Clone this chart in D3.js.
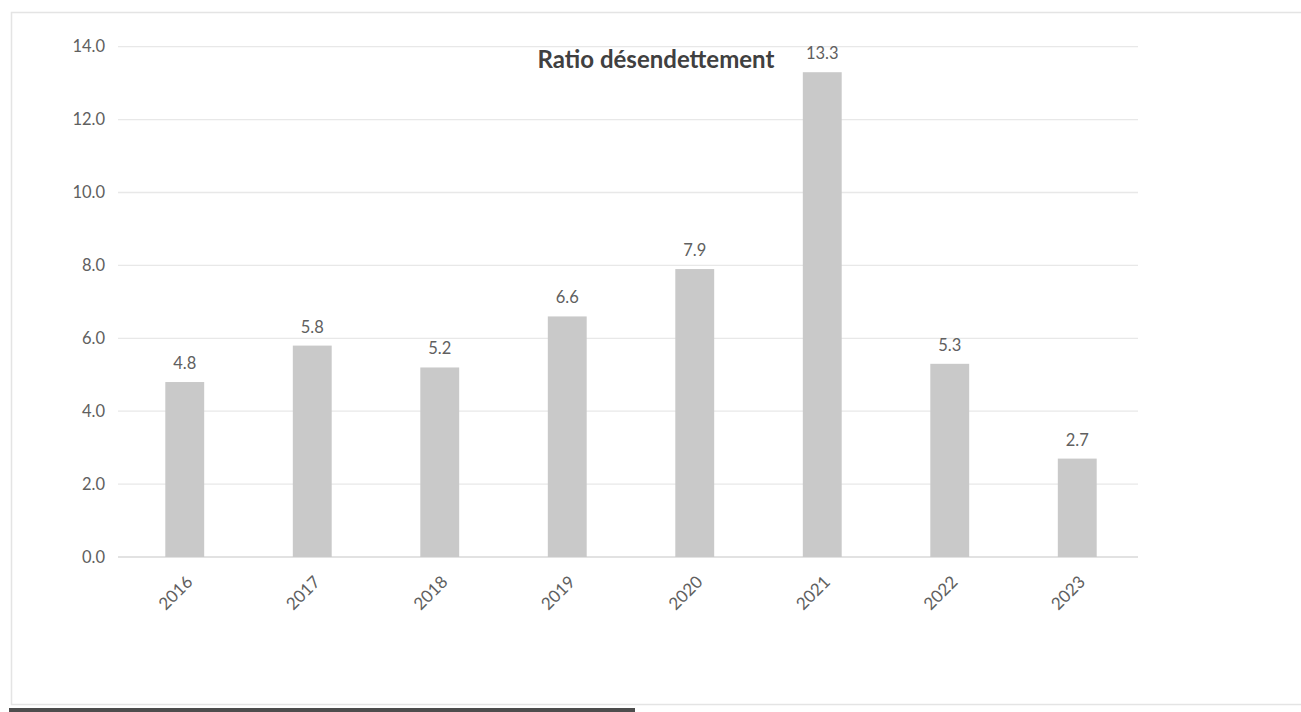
<!DOCTYPE html>
<html>
<head>
<meta charset="utf-8">
<script src="https://cdn.jsdelivr.net/npm/d3@7"></script>
<style>
  html, body { margin: 0; padding: 0; background: #ffffff; }
  svg { display: block; }
</style>
</head>
<body>
<svg id="chart" width="1301" height="712"></svg>
<script>
// Debt-reduction ratio by year
const years = ["2016", "2017", "2018", "2019", "2020", "2021", "2022", "2023"];
const ratios = [4.8, 5.8, 5.2, 6.6, 7.9, 13.3, 5.3, 2.7];
const yTicks = [0, 2, 4, 6, 8, 10, 12, 14];
const chartTitle = "Ratio désendettement";

const svg = d3.select("#chart");
const W = 1301, H = 712;
const font = "Lato, 'Open Sans', sans-serif";
const textGrey = "#606060";

// chart frame
svg.append("rect")
  .attr("x", 11.5).attr("y", 12.5)
  .attr("width", W + 10).attr("height", 692)
  .attr("fill", "none").attr("stroke", "#e4e4e4").attr("stroke-width", 1.5);

// dark strip along the bottom edge
svg.append("rect")
  .attr("x", 9).attr("y", 708).attr("width", 626).attr("height", 4)
  .attr("fill", "#4d4d4d");

const plot = { left: 121, right: 1141, top: 46.7, bottom: 557 };

const x = d3.scaleBand()
  .domain(years)
  .range([plot.left, plot.right])
  .paddingInner(0.695)
  .paddingOuter(0.3475);

const y = d3.scaleLinear()
  .domain([0, 14])
  .range([plot.bottom, plot.top]);

// horizontal gridlines
svg.append("g")
  .selectAll("line")
  .data(yTicks)
  .join("line")
  .attr("x1", plot.left - 3).attr("x2", plot.right - 3)
  .attr("y1", d => y(d)).attr("y2", d => y(d))
  .attr("stroke", d => d === 0 ? "#d9d9d9" : "#e8e8e8")
  .attr("stroke-width", 1.3);

// y axis labels
const yAxis = d3.axisLeft(y)
  .tickValues(yTicks)
  .tickFormat(d3.format(".1f"))
  .tickSize(0)
  .tickPadding(0);

svg.append("g")
  .attr("transform", `translate(${plot.left - 16},0)`)
  .call(yAxis)
  .call(g => g.select(".domain").remove())
  .call(g => g.selectAll("text")
    .attr("font-family", font)
    .attr("font-size", 16.5)
    .attr("fill", textGrey));

// bars
svg.append("g")
  .selectAll("rect")
  .data(ratios)
  .join("rect")
  .attr("x", (d, i) => x(years[i]))
  .attr("width", x.bandwidth())
  .attr("y", d => y(d))
  .attr("height", d => y(0) - y(d))
  .attr("fill", "#c9c9c9");

// value labels
svg.append("g")
  .selectAll("text")
  .data(ratios)
  .join("text")
  .attr("x", (d, i) => x(years[i]) + x.bandwidth() / 2)
  .attr("y", d => y(d) - 13)
  .attr("text-anchor", "middle")
  .attr("font-family", font)
  .attr("font-size", 16.5)
  .attr("fill", textGrey)
  .text(d => d3.format(".1f")(d));

// x axis labels (rotated)
const xAxis = d3.axisBottom(x).tickSize(0).tickPadding(0);
svg.append("g")
  .attr("transform", `translate(0,${plot.bottom})`)
  .call(xAxis)
  .call(g => g.select(".domain").remove())
  .call(g => g.selectAll("text")
    .attr("font-family", font)
    .attr("font-size", 17)
    .attr("fill", textGrey)
    .attr("text-anchor", "end")
    .attr("dy", null)
    .attr("y", 0)
    .attr("transform", "translate(9,26) rotate(-45)"));

// title
svg.append("text")
  .attr("x", 656)
  .attr("y", 68)
  .attr("text-anchor", "middle")
  .attr("font-family", font)
  .attr("font-weight", "bold")
  .attr("font-size", 24)
  .attr("fill", "#404040")
  .text(chartTitle);
</script>
</body>
</html>
